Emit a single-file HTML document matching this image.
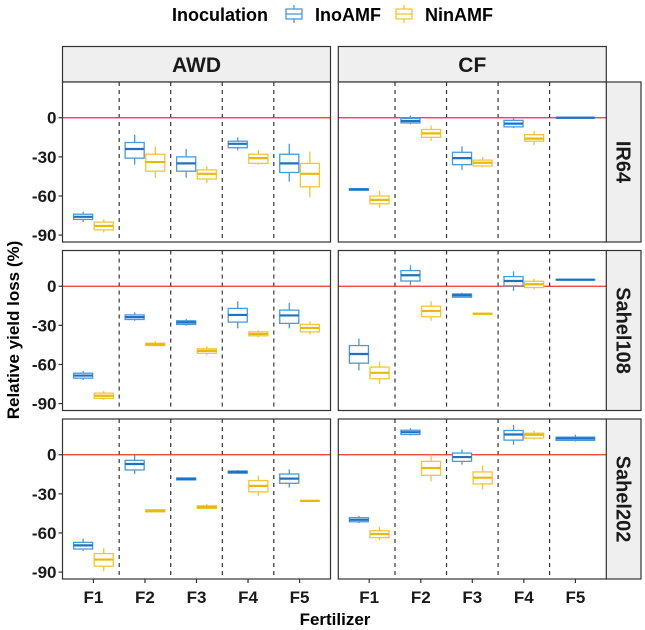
<!DOCTYPE html>
<html><head><meta charset="utf-8">
<style>
html,body{margin:0;padding:0;background:#fff;}
svg{display:block;font-family:"Liberation Sans",Arial,sans-serif;}
</style></head>
<body>
<svg id="chart" width="645" height="630" viewBox="0 0 645 630" xmlns="http://www.w3.org/2000/svg">
  <g>
    <text x="172" y="21" font-size="18" font-weight="bold">Inoculation</text>
    <g>
      <rect x="286" y="9" width="16" height="10" fill="none" stroke="#4a9ad8" stroke-width="1.3"/>
      <line x1="294" y1="5" x2="294" y2="9" stroke="#4a9ad8" stroke-width="1.3"/>
      <line x1="294" y1="19" x2="294" y2="23" stroke="#4a9ad8" stroke-width="1.3"/>
      <line x1="286" y1="14" x2="302" y2="14" stroke="#4a9ad8" stroke-width="1.3"/>
      <text x="315" y="21" font-size="18" font-weight="bold">InoAMF</text>
    </g>
    <g>
      <rect x="396" y="9" width="16" height="10" fill="none" stroke="#f2c53a" stroke-width="1.3"/>
      <line x1="404" y1="5" x2="404" y2="9" stroke="#f2c53a" stroke-width="1.3"/>
      <line x1="404" y1="19" x2="404" y2="23" stroke="#f2c53a" stroke-width="1.3"/>
      <line x1="396" y1="14" x2="412" y2="14" stroke="#f2c53a" stroke-width="1.3"/>
      <text x="425" y="21" font-size="18" font-weight="bold">NinAMF</text>
    </g>
  </g>
  <g id="plots"></g>
  <text transform="translate(19,330) rotate(-90)" text-anchor="middle" font-size="17" font-weight="bold">Relative yield loss (%)</text>
  <text x="335" y="625" text-anchor="middle" font-size="17" font-weight="bold">Fertilizer</text>
</svg>
<script>
// categories
const fertilizers = ["F1","F2","F3","F4","F5"];
const waterRegimes = ["AWD","CF"];
const varieties = ["IR64","Sahel108","Sahel202"];
const yTicks = [0,-30,-60,-90];
// box stats per fertilizer: [lower whisker, q1, median, q3, upper whisker]
const ir64_AWD_Ino = [[-80,-78,-76,-74,-72],[-36,-31,-24,-19,-13],[-46,-41,-35,-30,-24],[-25,-23,-20,-18,-15],[-49,-42,-35,-28,-20]];
const ir64_AWD_Nin = [[-88,-86,-83,-80,-78],[-46,-41,-34,-28,-22],[-50,-47,-43,-40,-37],[-36,-35,-31,-28,-25],[-61,-53,-43,-35,-26]];
const ir64_CF_Ino  = [[-56,-55.6,-55,-54.4,-54],[-5,-4,-2.5,-0.5,1.5],[-40,-36,-31,-26.5,-22],[-8,-7,-4.5,-2,-0.5],[-0.5,-0.3,0,0.3,0.5]];
const ir64_CF_Nin  = [[-69,-66,-63,-60,-56],[-18,-15,-12,-9,-6],[-38,-37,-34.5,-32.5,-30],[-21,-18,-16,-13,-10],null];
const s108_AWD_Ino = [[-72,-70.5,-68.5,-66.7,-65],[-26.5,-25.5,-23.7,-22,-20],[-30.3,-29.3,-27.7,-26.5,-25],[-32.3,-27.5,-22,-17,-11.5],[-32.3,-28.5,-22.4,-18.3,-12.7]];
const s108_AWD_Nin = [[-87,-86,-84,-82,-80.5],[-46.3,-45.5,-44.5,-43.7,-42],[-53,-51.4,-49.6,-48,-46],[-39,-38,-36.6,-35,-33.8],[-37,-35,-32,-29.3,-27]];
const s108_CF_Ino  = [[-64.6,-59,-52,-45.5,-40],[0.8,4,8.4,12,16],[-8.7,-8.4,-6.9,-5.9,-5],[-3.6,0.3,4,7.4,11.5],[4.5,4.7,5,5.3,5.5]];
const s108_CF_Nin  = [[-26.5,-23.4,-19,-15.3,-11.5],[-26.5,-23.4,-19,-15.3,-11.5],[-21.5,-21.3,-21.1,-20.9,-20.7],[-2.5,-1,1.5,3.8,5.8],null];
const s202_AWD_Ino = [[-73.8,-72.3,-69.5,-67.2,-64.4],[-14.8,-11.7,-7.1,-4.3,-0.3],[-19.8,-19.3,-18.6,-17.8,-17.3],[-14.8,-14.2,-13.2,-12.5,-11.7],[-25.2,-21.9,-18.3,-14.8,-11.2]];
const s202_AWD_Nin = [[-89.3,-85.5,-80.4,-75.8,-71.5],[-44.3,-43.8,-43,-42.2,-41.7],[-41.7,-41.2,-40.2,-39.2,-37.7],[-31.6,-28.5,-23.9,-19.8,-16],[-35.8,-35.6,-35.4,-35.2,-35]];
const s202_CF_Ino  = [[-52.4,-51.4,-49.9,-48.3,-47],[14.8,15.5,17.3,18.8,20.4],[-7.6,-5.1,-1.8,1.3,4],[7.6,11.2,15.5,18.6,22.9],[10.2,11,12.5,13.5,15.3]];
const s202_CF_Nin  = [[-65.4,-63.6,-60.8,-58.3,-55.2],[-20.4,-15.8,-10.2,-5.1,0],[-26.5,-22.4,-17.6,-13.2,-8.1],[11.7,12.7,15.3,16.5,18.6],null];
const panelData = [
  [[ir64_AWD_Ino, ir64_AWD_Nin],[ir64_CF_Ino, ir64_CF_Nin]],
  [[s108_AWD_Ino, s108_AWD_Nin],[s108_CF_Ino, s108_CF_Nin]],
  [[s202_AWD_Ino, s202_AWD_Nin],[s202_CF_Ino, s202_CF_Nin]]
];
s108_CF_Nin[0] = [-74.8,-71,-66.4,-62,-57.8];

const NS = "http://www.w3.org/2000/svg";
const root = document.getElementById("plots");
const colX = [62.5, 338.3];
const panelW = 268;
const rowY = [82, 250.5, 419];
const panelH = 160;
const yMin = -95.3, yMax = 27.4;
const xMin = 0.4, xMax = 5.6;
const strokeC = ["#4a9ad8","#f2c53a"];
const medC = ["#1d72c4","#e8b90c"];
function mk(tag, attrs, parent){
  const e = document.createElementNS(NS, tag);
  for (const k in attrs) e.setAttribute(k, attrs[k]);
  parent.appendChild(e);
  return e;
}
function yScale(r, v){ return rowY[r] + (yMax - v) / (yMax - yMin) * panelH; }
function xScale(c, v){ return colX[c] + (v - xMin) / (xMax - xMin) * panelW; }

// column strips
waterRegimes.forEach((w, c) => {
  const g = mk("g", {}, root);
  
  
  mk("rect", {x: colX[c], y: 46.5, width: panelW, height: 35.5, fill: "#efefef", stroke: "#333", "stroke-width": 1.2}, g);
  const t = mk("text", {x: colX[c] + panelW/2, y: 72, "text-anchor": "middle", "font-size": 21, "font-weight": "bold", fill: "#1a1a1a"}, g);
  t.textContent = w;
});
// row strips
varieties.forEach((v, r) => {
  const g = mk("g", {}, root);
  
  
  mk("rect", {x: 606, y: rowY[r], width: 35, height: panelH, fill: "#efefef", stroke: "#333", "stroke-width": 1.2}, g);
  const cx = 623.5, cy = rowY[r] + panelH/2;
  const t = mk("text", {x: cx, y: cy + 7, "text-anchor": "middle", "font-size": 20, "font-weight": "bold", fill: "#1a1a1a", transform: `rotate(90 ${cx} ${cy})`}, g);
  t.textContent = v;
});

for (let r = 0; r < 3; r++) {
  for (let c = 0; c < 2; c++) {
    const g = mk("g", {}, root);
    
    
    mk("rect", {x: colX[c], y: rowY[r], width: panelW, height: panelH, fill: "#fff"}, g);
    // dashed separators
    for (let i = 1; i < fertilizers.length; i++) {
      const x = xScale(c, i + 0.5);
      const l = mk("line", {x1: x, y1: rowY[r], x2: x, y2: rowY[r] + panelH, stroke: "#333", "stroke-width": 1.2, "stroke-dasharray": "4,4"}, g);
      
      
    }
    const ref = mk("line", {x1: colX[c], y1: yScale(r, 0), x2: colX[c] + panelW, y2: yScale(r, 0), stroke: "#f03030", "stroke-width": 1.3}, g);
    
    
    // boxes
    const pd = panelData[r][c];
    fertilizers.forEach((f, i) => {
      const single = pd[1][i] === null;
      for (let s = 0; s < 2; s++) {
        const st = pd[s][i];
        if (!st) continue;
        const center = single ? i + 1 : i + 1 + (s === 0 ? -0.2 : 0.2);
        const hw = single ? 0.375 : 0.185;
        const x0 = xScale(c, center - hw), x1 = xScale(c, center + hw), xc = xScale(c, center);
        const bg = mk("g", {}, g);
        
        
        mk("line", {x1: xc, y1: yScale(r, st[0]), x2: xc, y2: yScale(r, st[1]), stroke: strokeC[s], "stroke-width": 1.3}, bg);
        mk("line", {x1: xc, y1: yScale(r, st[3]), x2: xc, y2: yScale(r, st[4]), stroke: strokeC[s], "stroke-width": 1.3}, bg);
        const yt = yScale(r, st[3]), yb = yScale(r, st[1]);
        mk("rect", {x: x0, y: yt, width: x1 - x0, height: Math.max(yb - yt, 0.5), fill: "#fff", stroke: strokeC[s], "stroke-width": 1.3}, bg);
        mk("line", {x1: x0, y1: yScale(r, st[2]), x2: x1, y2: yScale(r, st[2]), stroke: medC[s], "stroke-width": 2.2}, bg);
      }
    });
    mk("rect", {x: colX[c], y: rowY[r], width: panelW, height: panelH, fill: "none", stroke: "#333", "stroke-width": 1.2}, g);
    // y ticks on left column
    if (c === 0) {
      yTicks.forEach(t => {
        const y = yScale(r, t);
        mk("line", {x1: colX[0] - 4, y1: y, x2: colX[0], y2: y, stroke: "#333", "stroke-width": 1.2}, root);
        const tx = mk("text", {x: colX[0] - 6, y: y + 6, "text-anchor": "end", "font-size": 17, "font-weight": "bold", fill: "#1a1a1a"}, root);
        
        
        tx.textContent = t;
      });
    }
    // x ticks on bottom row
    if (r === 2) {
      fertilizers.forEach((f, i) => {
        const x = xScale(c, i + 1);
        mk("line", {x1: x, y1: rowY[2] + panelH, x2: x, y2: rowY[2] + panelH + 4, stroke: "#333", "stroke-width": 1.2}, root);
        const tx = mk("text", {x: x, y: 603, "text-anchor": "middle", "font-size": 17, "font-weight": "bold", fill: "#1a1a1a"}, root);
        
        
        tx.textContent = f;
      });
    }
  }
}
</script>
</body></html>
